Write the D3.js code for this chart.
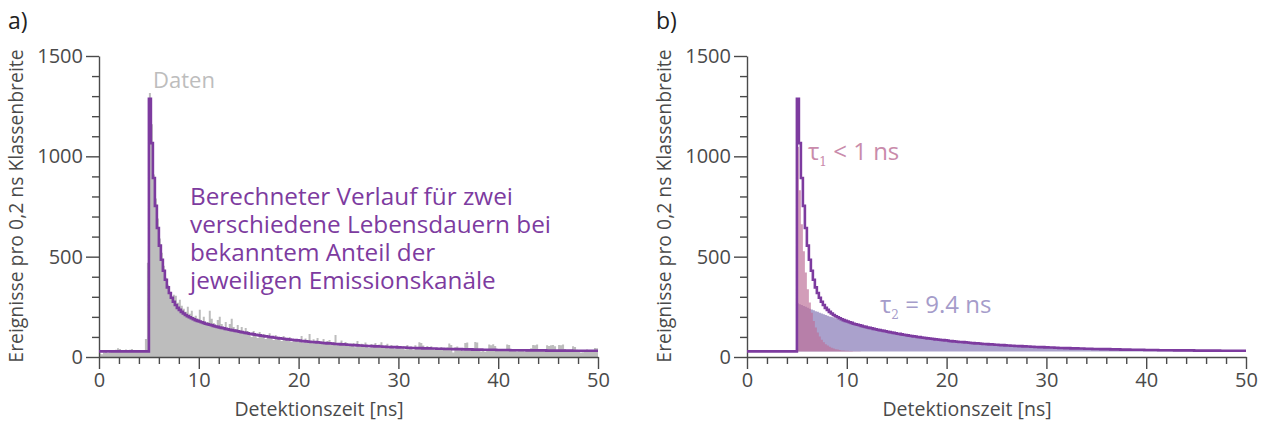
<!DOCTYPE html>
<html>
<head>
<meta charset="utf-8">
<script src="https://cdn.jsdelivr.net/npm/d3@7"></script>
<style>
  body { margin: 0; background: #fff; }
  svg text { font-family: "Open Sans", "Noto Sans", sans-serif; }
</style>
</head>
<body>
<script>
// bins of 0.2 ns from 0 to 50 ns
const binWidth = 0.2;
const timeDomain = [0, 50];
const countDomain = [0, 1500];
const xMajorTicks = [0, 10, 20, 30, 40, 50];
const yMajorTicks = [0, 500, 1000, 1500];
const onsetTime = 5.0;
const background = 28;

// fast channel (tau1 < 1 ns), per bin from onset
const fastComponent = [1019, 803, 633, 499, 393, 310, 244, 193, 152, 119, 94, 74, 58, 46, 36, 29, 23, 18, 14, 11,
  9, 7, 5, 4, 3, 3, 2, 2, 1, 1, 1, 1, 0];

// slow channel (tau2 = 9.4 ns), per bin from onset
const slowComponent = [
  240, 235, 231, 226, 222, 217, 213, 209, 205, 200, 197, 193, 189, 185, 181, 178, 174, 171, 167, 164, 161, 158, 155, 152, 149,
  146, 143, 140, 137, 134, 132, 129, 127, 124, 122, 119, 117, 115, 112, 110, 108, 106, 104, 102, 100, 98, 96, 94, 92, 90,
  88, 87, 85, 83, 82, 80, 78, 77, 75, 74, 72, 71, 69, 68, 67, 65, 64, 63, 62, 60, 59, 58, 57, 56, 55,
  54, 52, 51, 50, 49, 48, 47, 47, 46, 45, 44, 43, 42, 41, 40, 40, 39, 38, 37, 37, 36, 35, 35, 34, 33,
  33, 32, 31, 31, 30, 29, 29, 28, 28, 27, 27, 26, 26, 25, 25, 24, 24, 23, 23, 22, 22, 21, 21, 21, 20,
  20, 19, 19, 19, 18, 18, 17, 17, 17, 16, 16, 16, 15, 15, 15, 15, 14, 14, 14, 13, 13, 13, 13, 12, 12,
  12, 12, 11, 11, 11, 11, 11, 10, 10, 10, 10, 10, 9, 9, 9, 9, 9, 8, 8, 8, 8, 8, 8, 8, 7,
  7, 7, 7, 7, 7, 7, 6, 6, 6, 6, 6, 6, 6, 6, 5, 5, 5, 5, 5, 5, 5, 5, 5, 5, 4,
  4, 4, 4, 4, 4, 4, 4, 4, 4, 4, 4, 4, 3, 3, 3, 3, 3, 3, 3, 3, 3, 3, 3, 3, 3
];

// measured histogram ("Daten"), 250 bins
const measuredCounts = [
  18, 14, 22, 26, 20, 24, 30, 28, 36, 44, 40, 32, 30, 38, 34, 36, 40, 30, 35, 33, 28, 30, 26, 90, 470,
  1315, 1160, 910, 790, 690, 590, 520, 455, 395, 360, 325, 300, 310, 305, 270, 285, 255, 240, 225, 250, 215, 230, 200, 205, 190,
  235, 180, 200, 165, 175, 230, 190, 170, 160, 185, 200, 165, 150, 175, 140, 165, 190, 150, 140, 160, 135, 150, 125, 145, 130,
  120, 100, 130, 110, 95, 125, 105, 115, 90, 100, 118, 95, 85, 110, 100, 92, 80, 105, 95, 88, 100, 75, 90, 85, 80,
  80, 105, 70, 92, 85, 115, 75, 88, 70, 95, 78, 68, 90, 72, 80, 85, 62, 75, 110, 65, 70, 82, 60, 75, 68,
  62, 55, 70, 48, 80, 58, 66, 50, 72, 60, 45, 65, 55, 70, 50, 62, 74, 48, 58, 66, 44, 60, 52, 40, 58,
  50, 42, 55, 38, 60, 45, 52, 36, 58, 48, 74, 70, 57, 42, 55, 50, 53, 40, 35, 46, 38, 50, 44, 36, 48,
  67, 60, 22, 48, 52, 40, 36, 30, 70, 72, 42, 38, 45, 75, 72, 30, 28, 34, 26, 40, 62, 58, 64, 55, 40,
  36, 30, 40, 34, 62, 60, 38, 32, 36, 28, 34, 40, 30, 26, 38, 36, 44, 60, 58, 62, 35, 30, 38, 28, 58,
  55, 58, 60, 53, 30, 60, 58, 62, 40, 34, 28, 32, 53, 50, 36, 30, 22, 24, 35, 38, 30, 34, 28, 45, 44
];

const fitLabelLines = ["Berechneter Verlauf für zwei", "verschiedene Lebensdauern bei",
  "bekanntem Anteil der", "jeweiligen Emissionskanäle"];

const axisColor = "#4a4a4a";
const purple = "#7d3b9f";

const svg = d3.select("body").append("svg")
  .attr("width", 1269)
  .attr("height", 428);

const onsetBin = Math.round(onsetTime / binWidth);
const toBins = arr => {
  const pts = arr.map((v, i) => ({ t: i * binWidth, v }));
  pts.push({ t: timeDomain[1], v: arr[arr.length - 1] });
  return pts;
};
const modelCounts = measuredCounts.map((_, i) => {
  const k = i - onsetBin;
  return k < 0 ? background : background + (fastComponent[k] || 0) + (slowComponent[k] || 0);
});

function drawPanel(left, tag) {
  const g = svg.append("g").attr("transform", `translate(${left},0)`);
  const x = d3.scaleLinear().domain(timeDomain).range([0, 499]);
  const y = d3.scaleLinear().domain(countDomain).range([357, 56]);

  // axes: major + minor ticks
  const xMinor = d3.range(0, 51, 2).filter(v => v % 10 !== 0);
  const yMinor = d3.range(0, 1501, 100).filter(v => v % 500 !== 0);

  g.append("g").attr("transform", "translate(0,357)")
    .call(d3.axisBottom(x).tickValues(xMajorTicks).tickSize(12).tickSizeOuter(0)
      .tickPadding(4).tickFormat(d3.format("d")));
  g.append("g").attr("transform", "translate(0,357)")
    .call(d3.axisBottom(x).tickValues(xMinor).tickSize(7).tickFormat(""))
    .select(".domain").remove();
  g.append("g")
    .call(d3.axisLeft(y).tickValues(yMajorTicks).tickSize(13).tickSizeOuter(0)
      .tickPadding(3).tickFormat(d3.format("d")));
  g.append("g")
    .call(d3.axisLeft(y).tickValues(yMinor).tickSize(7).tickFormat(""))
    .select(".domain").remove();

  g.selectAll(".tick line, .domain").attr("stroke", axisColor).attr("stroke-width", 1.4);
  g.selectAll(".tick text").attr("fill", axisColor).style("font-size", "20px");

  g.append("text")
    .attr("x", 220).attr("y", 416)
    .attr("text-anchor", "middle")
    .attr("fill", axisColor)
    .style("font-size", "19.5px")
    .text("Detektionszeit [ns]");

  g.append("text")
    .attr("transform", `translate(-76,206) rotate(-90)`)
    .attr("text-anchor", "middle")
    .attr("fill", axisColor)
    .style("font-size", "19.4px")
    .text("Ereignisse pro 0,2 ns Klassenbreite");

  g.append("text")
    .attr("x", -91).attr("y", 29)
    .attr("fill", "#222")
    .style("font-size", "23px")
    .text(tag);

  return { g, x, y };
}

const stepLine = (x, y) => d3.line()
  .x(d => x(d.t)).y(d => y(d.v))
  .curve(d3.curveStepAfter);

// ---- panel a ----
const pa = drawPanel(99, "a)");
const histArea = d3.area()
  .x(d => pa.x(d.t))
  .y0(pa.y(0))
  .y1(d => pa.y(d.v))
  .curve(d3.curveStepAfter);

pa.g.insert("path", ":first-child")
  .datum(toBins(measuredCounts))
  .attr("d", histArea)
  .attr("fill", "#bdbdbd");

pa.g.append("path")
  .datum(toBins(modelCounts))
  .attr("d", stepLine(pa.x, pa.y))
  .attr("fill", "none")
  .attr("stroke", purple)
  .attr("stroke-width", 2.6);

pa.g.append("text")
  .attr("x", 54).attr("y", 88)
  .attr("fill", "#bdbdbd")
  .style("font-size", "22px")
  .text("Daten");

pa.g.append("text")
  .attr("fill", purple)
  .style("font-size", "24.3px")
  .selectAll("tspan")
  .data(fitLabelLines)
  .join("tspan")
  .attr("x", 91)
  .attr("y", (d, i) => 205 + i * 28)
  .text(d => d);

// ---- panel b ----
const pb = drawPanel(747, "b)");
const comp = pb.g.insert("g", ":first-child");

function componentBins(values) {
  const pts = values.map((v, k) => ({ t: onsetTime + k * binWidth, v }));
  pts.push({ t: Math.min(timeDomain[1], onsetTime + values.length * binWidth), v: values[values.length - 1] });
  return pts;
}

const compArea = d3.area()
  .x(d => pb.x(d.t))
  .y0(pb.y(background))
  .y1(d => pb.y(background + d.v))
  .curve(d3.curveStepAfter);

comp.append("path")
  .datum(componentBins(slowComponent))
  .attr("d", compArea)
  .attr("fill", "#aaa1cc");

comp.append("path")
  .datum(componentBins(fastComponent))
  .attr("d", compArea)
  .attr("fill", "#bd6f98")
  .attr("fill-opacity", 0.68);

pb.g.append("path")
  .datum(toBins(modelCounts))
  .attr("d", stepLine(pb.x, pb.y))
  .attr("fill", "none")
  .attr("stroke", purple)
  .attr("stroke-width", 2.6);

const tau1 = pb.g.append("text")
  .attr("x", 61).attr("y", 160)
  .attr("fill", "#c98bab")
  .style("font-size", "24px");
tau1.append("tspan").text("τ");
tau1.append("tspan").attr("dy", 6).style("font-size", "12px")
  .style("font-family", "'DejaVu Serif', serif").text("1");
tau1.append("tspan").attr("dy", -6).text("\u00a0< 1 ns");

const tau2 = pb.g.append("text")
  .attr("x", 133).attr("y", 313)
  .attr("fill", "#a59cca")
  .style("font-size", "24px");
tau2.append("tspan").text("τ");
tau2.append("tspan").attr("dy", 6).style("font-size", "12px")
  .style("font-family", "'DejaVu Serif', serif").text("2");
tau2.append("tspan").attr("dy", -6).text("\u00a0= 9.4 ns");
</script>
</body>
</html>
